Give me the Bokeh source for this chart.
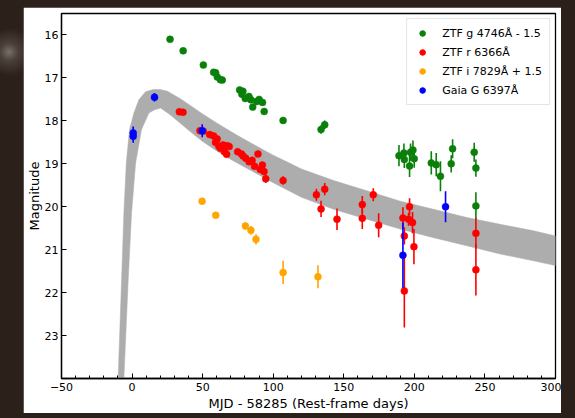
from bokeh.plotting import figure
from bokeh.models import Range1d, FixedTicker, Legend, LegendItem, ColumnDataSource
from bokeh.layouts import column
from bokeh.embed import file_html
from bokeh.resources import INLINE

# ---------------- data ----------------
g_x = [26.9, 36.2, 50.5, 57.8, 59.2, 60.4, 62.6, 63.9, 76.2, 78.5, 77.8, 80.2, 82.8, 84.2, 85.5,
       88.3, 90.0, 92.4, 93.6, 107.0, 133.9, 136.5, 189.1, 192.6, 192.9, 196.6, 197.3, 199.0,
       199.9, 212.0, 215.5, 218.5, 226.1, 227.1, 242.4, 243.6, 243.6]
g_y = [16.10, 16.37, 16.70, 16.87, 16.88, 16.98, 17.04, 17.05, 17.28, 17.31, 17.38, 17.48, 17.43,
       17.51, 17.68, 17.55, 17.50, 17.57, 17.78, 17.99, 18.20, 18.09, 18.81, 18.75, 18.90, 19.05,
       18.73, 18.68, 18.88, 18.98, 19.02, 19.29, 19.00, 18.65, 18.73, 19.10, 19.98]
g_err = [0.02, 0.02, 0.02, 0.03, 0.03, 0.03, 0.03, 0.03, 0.03, 0.03, 0.03, 0.03, 0.03, 0.03, 0.04,
         0.04, 0.04, 0.04, 0.05, 0.07, 0.10, 0.10, 0.25, 0.22, 0.20, 0.26, 0.20, 0.22, 0.21, 0.27,
         0.27, 0.35, 0.20, 0.22, 0.22, 0.20, 0.32]

r_x = [33.5, 36.1, 48.1, 50.4, 55.0, 57.8, 59.1, 60.3, 61.5, 62.6, 64.5, 65.5, 67.4, 68.8, 67.0,
       74.8, 77.5, 78.7, 80.5, 82.9, 85.1, 86.8, 89.2, 90.8, 92.3, 93.5, 94.7, 107.0, 130.6, 133.9,
       136.5, 145.2, 163.1, 163.1, 170.9, 174.7, 191.9, 192.9, 192.9, 195.9, 196.6, 198.7, 199.7,
       243.6, 243.6]
r_y = [17.79, 17.80, 18.23, 18.24, 18.32, 18.35, 18.50, 18.42, 18.59, 18.64, 18.56, 18.72, 18.58,
       18.60, 18.78, 18.72, 18.77, 18.82, 18.87, 18.95, 18.92, 19.06, 18.77, 19.13, 19.03, 19.18,
       19.35, 19.39, 19.72, 20.05, 19.59, 20.29, 19.95, 20.27, 19.72, 20.43, 20.26, 20.68, 21.96,
       20.29, 20.00, 20.37, 20.93, 20.62, 21.47]
r_err = [0.03, 0.03, 0.03, 0.03, 0.03, 0.03, 0.03, 0.03, 0.03, 0.03, 0.03, 0.04, 0.03, 0.03, 0.04,
         0.04, 0.04, 0.04, 0.04, 0.05, 0.05, 0.05, 0.04, 0.06, 0.06, 0.07, 0.10, 0.10, 0.14, 0.19,
         0.14, 0.25, 0.20, 0.25, 0.15, 0.28, 0.25, 0.20, 0.85, 0.15, 0.20, 0.25, 0.41, 0.35, 0.60]

i_x = [49.6, 59.3, 80.3, 84.2, 87.8, 107.0, 131.7]
i_y = [19.87, 20.20, 20.45, 20.55, 20.76, 21.53, 21.63]
i_err = [0.03, 0.04, 0.08, 0.10, 0.12, 0.27, 0.27]

G_x = [0.8, 0.8, 15.9, 49.7, 191.9, 222.1]
G_y = [18.28, 18.36, 17.45, 18.23, 21.13, 20.00]
G_err = [0.15, 0.15, 0.10, 0.15, 0.76, 0.36]

# model band: bright (upper) edge and faint (lower) edge
band_top_x = [-10.2, -7.4, -5.8, -4.1, -1.8, 1.3, 4.8, 9.6, 15.0, 20.0, 25.0, 34.0, 42.0, 50.0,
              60.0, 70.0, 80.0, 90.0, 100.0, 110.0, 120.0, 142.8, 166.4, 190.0, 213.6, 237.2,
              260.8, 284.4, 300.0]
band_top_y = [24.3, 21.68, 20.14, 18.98, 18.20, 17.82, 17.51, 17.32, 17.27, 17.27, 17.31, 17.48,
              17.66, 17.84, 18.05, 18.25, 18.44, 18.62, 18.80, 18.96, 19.12, 19.39, 19.63, 19.87,
              20.06, 20.25, 20.41, 20.56, 20.68]
band_bot_x = [-6.2, -2.7, -0.35, 2.5, 6.7, 11.9, 16.0, 20.2, 27.0, 34.0, 42.0, 50.0, 60.0, 70.0,
              80.0, 90.0, 100.0, 110.0, 120.0, 142.8, 166.4, 190.0, 213.6, 237.2, 260.8, 284.4,
              300.0]
band_bot_y = [24.3, 21.68, 20.14, 18.98, 18.20, 17.82, 17.74, 17.70, 17.86, 18.05, 18.27, 18.48,
              18.70, 18.90, 19.08, 19.26, 19.44, 19.61, 19.78, 20.06, 20.29, 20.52, 20.72, 20.91,
              21.10, 21.26, 21.37]

x_ticks = [-50, 0, 50, 100, 150, 200, 250, 300]
x_tick_labels = ["\u221250", "0", "50", "100", "150", "200", "250", "300"]
x_minor = [v for v in range(-50, 301, 10)]
y_ticks = [16, 17, 18, 19, 20, 21, 22, 23]

labels = ["ZTF g 4746\u00c5 - 1.5", "ZTF r 6366\u00c5", "ZTF i 7829\u00c5 + 1.5", "Gaia G 6397\u00c5"]
colors = ["#0a800a", "#ff0000", "#ffa500", "#0000ff"]

# ---------------- figure ----------------
FONT = "DejaVu Sans"
p = figure(width=538, height=406, output_backend="svg", toolbar_location=None,
           x_range=Range1d(-50, 300), y_range=Range1d(24.0, 15.5),
           min_border_left=30, min_border_right=6, min_border_top=6, min_border_bottom=30,
           border_fill_color="white", background_fill_color="white")
p.margin = (7, 14, 5, 23)
p.grid.visible = False
p.outline_line_color = "black"
p.outline_line_width = 1.3

band_xs = band_top_x + band_bot_x[::-1]
band_ys = band_top_y + band_bot_y[::-1]
p.patch(band_xs, band_ys, fill_color="#adadad", line_color="#adadad", line_width=0.5)

series = [(g_x, g_y, g_err), (r_x, r_y, r_err), (i_x, i_y, i_err), (G_x, G_y, G_err)]
legend_items = []
for (xs, ys, es), col, lab in zip(series, colors, labels):
    src = ColumnDataSource(dict(x=xs, y=ys, lo=[a + b for a, b in zip(ys, es)],
                                hi=[a - b for a, b in zip(ys, es)]))
    p.segment(x0="x", y0="lo", x1="x", y1="hi", source=src, line_color=col, line_width=1.6)
    p.scatter("x", "y", source=src, size=7, fill_color=col, line_color=col, line_width=0.5)
    # off-range proxy so the legend shows a smaller marker, as in the reference
    proxy = p.scatter(x=[-1000], y=[0], size=5, fill_color=col, line_color=col)
    legend_items.append(LegendItem(label=lab, renderers=[proxy]))

legend = Legend(items=legend_items, location="top_right", margin=5, padding=7,
                label_text_font=FONT, label_text_font_size="11px", label_text_color="black",
                glyph_width=16, glyph_height=14, label_height=14, label_standoff=12, spacing=5,
                border_line_color="#cccccc", border_line_width=1, background_fill_alpha=0.85)
p.add_layout(legend)

for ax in (p.xaxis[0], p.yaxis[0]):
    ax.major_tick_in = 5
    ax.major_tick_out = 0
    ax.minor_tick_in = 3
    ax.minor_tick_out = 0
    ax.axis_line_width = 1.3
    ax.major_label_text_font = FONT
    ax.major_label_text_font_size = "11px"
    ax.major_label_text_color = "black"
    ax.axis_label_text_font = FONT
    ax.axis_label_text_font_size = "13px"
    ax.axis_label_text_font_style = "normal"
    ax.axis_label_text_color = "black"
    ax.major_label_standoff = 3
    ax.axis_label_standoff = 0

p.xaxis.major_label_standoff = 4
p.xaxis.axis_label_standoff = 2
p.xaxis.ticker = FixedTicker(ticks=x_ticks, minor_ticks=x_minor)
p.xaxis.major_label_overrides = {t: l for t, l in zip(x_ticks, x_tick_labels)}
p.yaxis.ticker = FixedTicker(ticks=y_ticks)
p.yaxis.minor_tick_line_color = None
p.xaxis.axis_label = "MJD - 58285 (Rest-frame days)"
p.yaxis.axis_label = "Magnitude"

layout = column(p, styles={"background": "radial-gradient(circle at 9px 52px, #77706b 0px, #4a3f39 9px, #2b201a 24px)"})

open("out.html", "w").write(file_html(layout, INLINE))
